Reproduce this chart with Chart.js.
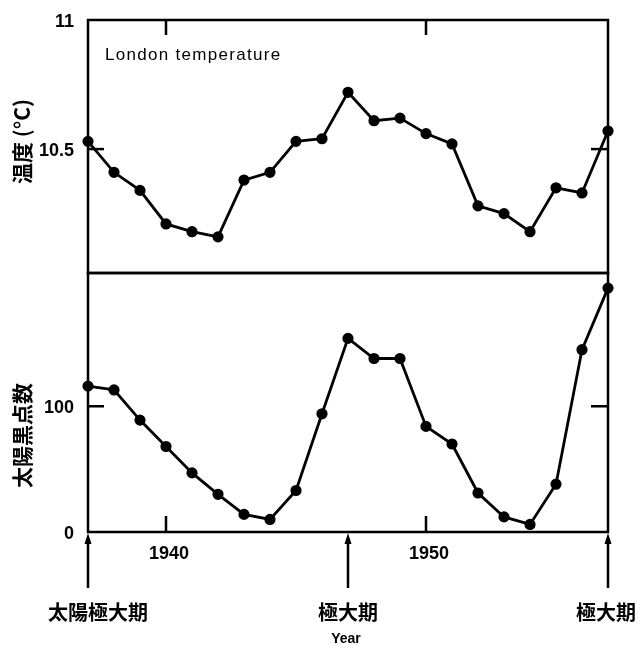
<!DOCTYPE html>
<html>
<head>
<meta charset="utf-8">
<script src="https://cdn.jsdelivr.net/npm/chart.js@4"></script>
<style>
  body { margin: 0; background: #fff; }
  #wrap { position: relative; width: 640px; height: 646px; }
  .box { position: absolute; left: 0; width: 640px; }
</style>
</head>
<body>
<div id="wrap">
  <div class="box" style="top:0;height:278px"><canvas id="tempChart"></canvas></div>
  <div class="box" style="top:268px;height:378px"><canvas id="sunChart"></canvas></div>
</div>
<script>
const years = [1937, 1938, 1939, 1940, 1941, 1942, 1943, 1944, 1945, 1946, 1947,
               1948, 1949, 1950, 1951, 1952, 1953, 1954, 1955, 1956, 1957];
const londonTemp = [10.53, 10.41, 10.34, 10.21, 10.18, 10.16, 10.38, 10.41, 10.53, 10.54, 10.72,
                    10.61, 10.62, 10.56, 10.52, 10.28, 10.25, 10.18, 10.35, 10.33, 10.57];
const sunspots = [116, 113, 89, 68, 47, 30, 14, 10, 33, 94, 154,
                  138, 138, 84, 70, 31, 12, 6, 38, 145, 194];
const yearTicks = [1940, 1950];
const tempTicks = [11, 10.5];
const tempTickLabels = ['11', '10.5'];
const sunTicks = [100, 0];
const sunTickLabels = ['100', '0'];
const maxima = [1937, 1947, 1957];
const maximaLabels = ['太陽極大期', '極大期', '極大期'];

const NUM_FONT = 'bold 18px "Liberation Sans", Arial, sans-serif';
const CJK_FONT = 'bold 20px "Noto Sans CJK JP", sans-serif';

function seg(ctx, x1, y1, x2, y2) {
  ctx.beginPath(); ctx.moveTo(x1, y1); ctx.lineTo(x2, y2); ctx.stroke();
}

// frame, inward ticks and all the texts around a panel
const framePlugin = {
  id: 'frame',
  afterDatasetsDraw(chart, args, o) {
    const {ctx, chartArea: a, scales: {x, y}} = chart;
    ctx.save();
    ctx.strokeStyle = '#000';
    ctx.fillStyle = '#000';
    ctx.lineWidth = 2.5;
    ctx.strokeRect(a.left, a.top, a.width, a.height);

    // year ticks on one edge
    yearTicks.forEach(v => {
      const px = x.getPixelForValue(v);
      if (o.xEdge === 'top') seg(ctx, px, a.top, px, a.top + 15);
      else seg(ctx, px, a.bottom, px, a.bottom - 16);
    });

    // value ticks and labels
    ctx.font = NUM_FONT;
    ctx.textAlign = 'right';
    ctx.textBaseline = 'middle';
    o.yTicks.forEach((v, i) => {
      const py = y.getPixelForValue(v);
      if (py > a.top + 2 && py < a.bottom - 2) {
        seg(ctx, a.left, py, a.left + 16, py);
        seg(ctx, a.right - 17, py, a.right, py);
      }
      ctx.fillText(o.yLabels[i], a.left - 14, py + 2);
    });

    // rotated axis title
    ctx.save();
    ctx.translate(a.left - 66, (a.top + a.bottom) / 2 + o.titleShift);
    ctx.rotate(-Math.PI / 2);
    ctx.textAlign = 'center';
    ctx.font = CJK_FONT.replace('20px', o.titleSize + 'px');
    ctx.fillText(o.title, 0, 0);
    ctx.restore();

    if (o.note) {
      ctx.font = '17px "Liberation Sans", Arial, sans-serif';
      ctx.letterSpacing = '1.3px';
      ctx.textAlign = 'left';
      ctx.fillText(o.note, a.left + 17, a.top + 35);
      ctx.letterSpacing = '0px';
    }

    if (o.bottomAxis) {
      ctx.textAlign = 'center';
      ctx.font = NUM_FONT;
      yearTicks.forEach(v => ctx.fillText(String(v), x.getPixelForValue(v) + 3, a.bottom + 22));

      // arrows pointing at the solar maxima
      maxima.forEach((v, i) => {
        const px = x.getPixelForValue(v);
        ctx.lineWidth = 2.5;
        seg(ctx, px, a.bottom + 8, px, a.bottom + 56);
        ctx.beginPath();
        ctx.moveTo(px, a.bottom + 1);
        ctx.lineTo(px - 3.5, a.bottom + 12);
        ctx.lineTo(px + 3.5, a.bottom + 12);
        ctx.closePath();
        ctx.fill();
        ctx.font = CJK_FONT;
        let cx = px;
        if (i === 0) cx = px + 10;
        if (i === maxima.length - 1) cx = px - 2;
        ctx.fillText(maximaLabels[i], cx, a.bottom + 80);
      });

      ctx.font = 'bold 14px "Liberation Sans", Arial, sans-serif';
      ctx.fillText('Year', (a.left + a.right) / 2 - 2, a.bottom + 107);
    }
    ctx.restore();
  }
};

function lineData(values) {
  return {
    datasets: [{
      data: years.map((yr, i) => ({ x: yr, y: values[i] })),
      showLine: true,
      borderColor: '#000',
      backgroundColor: '#000',
      borderWidth: 2.8,
      pointRadius: 4.2,
      pointHoverRadius: 4.2,
      tension: 0,
      clip: false
    }]
  };
}

function panelOptions(yMin, yMax, padding, frame) {
  return {
    responsive: true,
    maintainAspectRatio: false,
    animation: false,
    layout: { padding: padding, autoPadding: false },
    scales: {
      x: { type: 'linear', min: 1937, max: 1957, display: false },
      y: { type: 'linear', min: yMin, max: yMax, display: false }
    },
    plugins: {
      legend: { display: false },
      tooltip: { enabled: false },
      frame: frame
    }
  };
}

// both panels share the line at y = 273
new Chart(document.getElementById('tempChart'), {
  type: 'scatter',
  data: lineData(londonTemp),
  options: panelOptions(10.02, 11, { left: 88, right: 32, top: 20, bottom: 5 }, {
    xEdge: 'top', yTicks: tempTicks, yLabels: tempTickLabels,
    title: '温度 (°C)', titleSize: 21, titleShift: -5,
    note: 'London temperature', bottomAxis: false
  }),
  plugins: [framePlugin]
});

new Chart(document.getElementById('sunChart'), {
  type: 'scatter',
  data: lineData(sunspots),
  options: panelOptions(0, 206, { left: 88, right: 32, top: 5, bottom: 114 }, {
    xEdge: 'bottom', yTicks: sunTicks, yLabels: sunTickLabels,
    title: '太陽黒点数', titleSize: 21, titleShift: 33,
    note: null, bottomAxis: true
  }),
  plugins: [framePlugin]
});
</script>
</body>
</html>
